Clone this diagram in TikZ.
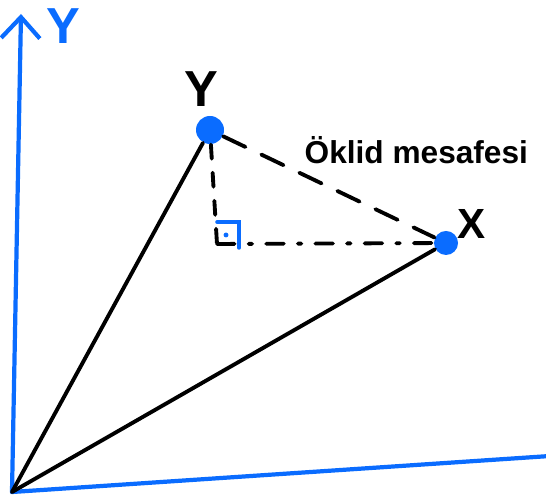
\documentclass[tikz,border=0pt]{standalone}
\usepackage{fontspec}
\setsansfont{Liberation Sans}
\usetikzlibrary{arrows.meta, positioning, calc}
\definecolor{axisblue}{HTML}{0A6CFF}
\tikzset{
  axis/.style={line width=1.2pt, color=axisblue, line cap=round},
  vec/.style={line width=1.1pt, black, line cap=round},
  pt/.style={circle, fill=axisblue, inner sep=0pt, minimum size=#1},
  lbl/.style={font=\sffamily\bfseries\Large, text=black}
}
\begin{document}
\begin{tikzpicture}[x=1cm, y=1cm]
  \useasboundingbox (0,0) rectangle (5.46,5.00);

  % Axes
  \coordinate (O) at (0.12,0.08);
  \coordinate (Ytop) at (0.21,4.86);
  \coordinate (Xend) at (5.50,0.44);
  \draw[axis, -{Straight Barb[length=6pt, width=11pt, line width=1.2pt]}] (O) -- (Ytop);
  \draw[axis] (O) -- (Xend);
  \node[font=\sffamily\bfseries\Large, text=axisblue] (ylab) at (0.63,4.74) {Y};

  % Points
  \node[pt=0.28cm] (Y) at (2.10,3.70) {};
  \node[pt=0.24cm] (X) at (4.46,2.57) {};
  \coordinate (C) at (2.17,2.56);
  \node[lbl] (Ylab) at (2.01,4.11) {Y};
  \node[lbl, font=\sffamily\bfseries\large] (Xlab) at (4.72,2.76) {X};

  % Vectors
  \draw[vec] (O) -- (Y);
  \draw[vec] (O) -- (X);

  % Distance and projections
  \draw[vec, dash pattern=on 7pt off 5pt] (Y) -- (X);
  \draw[vec, dash pattern=on 4pt off 4pt] (Y) -- (C);
  \draw[vec, dash pattern=on 5pt off 4pt on 1pt off 4pt] (C) -- (X);

  % Right angle
  \draw[axis, line width=1pt] ($(C)+(0,0.22)$) -- ++(0.22,0) -- ++(0,-0.26);
  \fill[axisblue] ($(C)+(0.09,0.09)$) circle (0.7pt);

  % Label
  \node[font=\sffamily\bfseries\fontsize{9}{11}\selectfont, anchor=west, inner sep=0pt] (dist) at (3.04,3.50) {Öklid mesafesi};
\end{tikzpicture}
\end{document}
